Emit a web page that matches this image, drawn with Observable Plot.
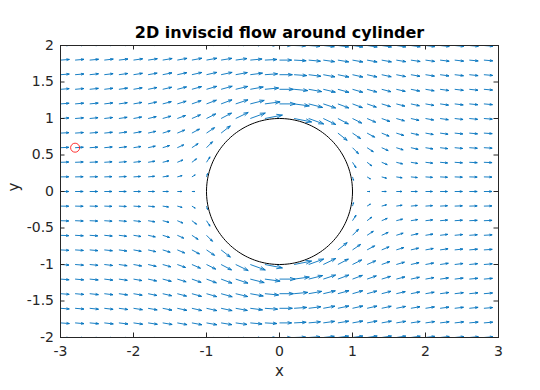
<!DOCTYPE html>
<html>
<head>
<meta charset="utf-8">
<script src="https://cdn.jsdelivr.net/npm/d3@7"></script>
<script src="https://cdn.jsdelivr.net/npm/@observablehq/plot@0.6"></script>
<style>
  html, body { margin: 0; padding: 0; background: #fff; }
  #chart { width: 540px; height: 390px; }
</style>
</head>
<body>
<div id="chart"></div>
<script>
const N = null; // grid points inside / on the cylinder (no arrow drawn)

// Grid of the quiver plot
const xs = [-3,-2.8,-2.6,-2.4,-2.2,-2,-1.8,-1.6,-1.4,-1.2,-1,-0.8,-0.6,-0.4,-0.2,0,0.2,0.4,0.6,0.8,1,1.2,1.4,1.6,1.8,2,2.2,2.4,2.6,2.8,3];
const ys = [2,1.8,1.6,1.4,1.2,1,0.8,0.6,0.4,0.2,0,-0.2,-0.4,-0.6,-0.8,-1,-1.2,-1.4,-1.6,-1.8,-2];

// Horizontal velocity u, one row per y value (top to bottom), one entry per x value
const uRows = [
  [.97,.97,.98,.98,.99,1,1.01,1.03,1.06,1.09,1.12,1.16,1.19,1.22,1.24,1.25,1.24,1.22,1.19,1.16,1.12,1.09,1.06,1.03,1.01,1,.99,.98,.98,.97,.97],
  [.96,.96,.96,.97,.98,.99,1,1.02,1.05,1.08,1.12,1.17,1.22,1.27,1.30,1.31,1.30,1.27,1.22,1.17,1.12,1.08,1.05,1.02,1,.99,.98,.97,.96,.96,.96],
  [.95,.95,.95,.95,.96,.97,.98,1,1.03,1.07,1.12,1.19,1.26,1.32,1.37,1.39,1.37,1.32,1.26,1.19,1.12,1.07,1.03,1,.98,.97,.96,.95,.95,.95,.95],
  [.94,.94,.94,.94,.94,.94,.95,.97,1,1.045,1.11,1.20,1.30,1.40,1.48,1.51,1.48,1.40,1.30,1.20,1.11,1.045,1,.97,.95,.94,.94,.94,.94,.94,.94],
  [.93,.93,.92,.92,.91,.91,.92,.93,.955,1,1.07,1.18,1.33,1.50,1.64,1.69,1.64,1.50,1.33,1.18,1.07,1,.955,.93,.92,.91,.91,.92,.92,.93,.93],
  [.92,.91,.90,.90,.89,.88,.88,.88,.89,.93,1,1.13,1.35,1.62,1.89,N,1.89,1.62,1.35,1.13,1,.93,.89,.88,.88,.88,.89,.90,.90,.91,.92],
  [.91,.90,.89,.88,.86,.84,.83,.81,.80,.82,.87,1,N,N,N,N,N,N,N,1,.87,.82,.80,.81,.83,.84,.86,.88,.89,.90,.91],
  [.90,.89,.87,.86,.83,.81,.78,.74,.70,.67,.65,N,N,N,N,N,N,N,N,N,.65,.67,.70,.74,.78,.81,.83,.86,.87,.89,.90],
  [.89,.88,.86,.84,.81,.78,.73,.68,.60,.50,.38,N,N,N,N,N,N,N,N,N,.38,.50,.60,.68,.73,.78,.81,.84,.86,.88,.89],
  [.89,.87,.85,.83,.80,.76,.70,.63,.52,.36,.11,N,N,N,N,N,N,N,N,N,.11,.36,.52,.63,.70,.76,.80,.83,.85,.87,.89],
  [.89,.87,.85,.83,.79,.75,.69,.61,.49,.31,N,N,N,N,N,N,N,N,N,N,N,.31,.49,.61,.69,.75,.79,.83,.85,.87,.89],
  [.89,.87,.85,.83,.80,.76,.70,.63,.52,.36,.11,N,N,N,N,N,N,N,N,N,.11,.36,.52,.63,.70,.76,.80,.83,.85,.87,.89],
  [.89,.88,.86,.84,.81,.78,.73,.68,.60,.50,.38,N,N,N,N,N,N,N,N,N,.38,.50,.60,.68,.73,.78,.81,.84,.86,.88,.89],
  [.90,.89,.87,.86,.83,.81,.78,.74,.70,.67,.65,N,N,N,N,N,N,N,N,N,.65,.67,.70,.74,.78,.81,.83,.86,.87,.89,.90],
  [.91,.90,.89,.88,.86,.84,.83,.81,.80,.82,.87,1,N,N,N,N,N,N,N,1,.87,.82,.80,.81,.83,.84,.86,.88,.89,.90,.91],
  [.92,.91,.90,.90,.89,.88,.88,.88,.89,.93,1,1.13,1.35,1.62,1.89,N,1.89,1.62,1.35,1.13,1,.93,.89,.88,.88,.88,.89,.90,.90,.91,.92],
  [.93,.93,.92,.92,.91,.91,.92,.93,.955,1,1.07,1.18,1.33,1.50,1.64,1.69,1.64,1.50,1.33,1.18,1.07,1,.955,.93,.92,.91,.91,.92,.92,.93,.93],
  [.94,.94,.94,.94,.94,.94,.95,.97,1,1.045,1.11,1.20,1.30,1.40,1.48,1.51,1.48,1.40,1.30,1.20,1.11,1.045,1,.97,.95,.94,.94,.94,.94,.94,.94],
  [.95,.95,.95,.95,.96,.97,.98,1,1.03,1.07,1.12,1.19,1.26,1.32,1.37,1.39,1.37,1.32,1.26,1.19,1.12,1.07,1.03,1,.98,.97,.96,.95,.95,.95,.95],
  [.96,.96,.96,.97,.98,.99,1,1.02,1.05,1.08,1.12,1.17,1.22,1.27,1.30,1.31,1.30,1.27,1.22,1.17,1.12,1.08,1.05,1.02,1,.99,.98,.97,.96,.96,.96],
  [.97,.97,.98,.98,.99,1,1.01,1.03,1.06,1.09,1.12,1.16,1.19,1.22,1.24,1.25,1.24,1.22,1.19,1.16,1.12,1.09,1.06,1.03,1.01,1,.99,.98,.98,.97,.97]
];

// Vertical velocity v, same layout
const vRows = [
  [.07,.08,.09,.10,.11,.125,.14,.15,.16,.16,.16,.15,.13,.09,.05,0,-.05,-.09,-.13,-.15,-.16,-.16,-.16,-.15,-.14,-.125,-.11,-.10,-.09,-.08,-.07],
  [.07,.08,.09,.11,.12,.14,.15,.17,.19,.20,.20,.19,.17,.12,.07,0,-.07,-.12,-.17,-.19,-.20,-.20,-.19,-.17,-.15,-.14,-.12,-.11,-.09,-.08,-.07],
  [.07,.08,.10,.11,.13,.15,.17,.20,.22,.24,.25,.25,.23,.17,.095,0,-.095,-.17,-.23,-.25,-.25,-.24,-.22,-.20,-.17,-.15,-.13,-.11,-.10,-.08,-.07],
  [.07,.08,.10,.11,.13,.16,.19,.22,.26,.29,.32,.33,.31,.25,.14,0,-.14,-.25,-.31,-.33,-.32,-.29,-.26,-.22,-.19,-.16,-.13,-.11,-.10,-.08,-.07],
  [.07,.08,.09,.11,.13,.16,.20,.24,.29,.35,.40,.44,.44,.38,.22,0,-.22,-.38,-.44,-.44,-.40,-.35,-.29,-.24,-.20,-.16,-.13,-.11,-.09,-.08,-.07],
  [.06,.07,.09,.105,.13,.16,.20,.25,.32,.40,.50,.59,.65,.59,.37,N,-.37,-.59,-.65,-.59,-.50,-.40,-.32,-.25,-.20,-.16,-.13,-.105,-.09,-.07,-.06],
  [.05,.06,.08,.09,.12,.15,.19,.25,.33,.44,.59,.78,N,N,N,N,N,N,N,-.78,-.59,-.44,-.33,-.25,-.19,-.15,-.12,-.09,-.08,-.06,-.05],
  [.04,.05,.06,.08,.10,.13,.17,.23,.31,.44,.65,N,N,N,N,N,N,N,N,N,-.65,-.44,-.31,-.23,-.17,-.13,-.10,-.08,-.06,-.05,-.04],
  [.03,.035,.04,.055,.07,.09,.12,.17,.25,.38,.59,N,N,N,N,N,N,N,N,N,-.59,-.38,-.25,-.17,-.12,-.09,-.07,-.055,-.04,-.035,-.03],
  [.015,.02,.02,.03,.04,.05,.07,.095,.14,.22,.37,N,N,N,N,N,N,N,N,N,-.37,-.22,-.14,-.095,-.07,-.05,-.04,-.03,-.02,-.02,-.015],
  [0,0,0,0,0,0,0,0,0,0,N,N,N,N,N,N,N,N,N,N,N,0,0,0,0,0,0,0,0,0,0],
  [-.015,-.02,-.02,-.03,-.04,-.05,-.07,-.095,-.14,-.22,-.37,N,N,N,N,N,N,N,N,N,.37,.22,.14,.095,.07,.05,.04,.03,.02,.02,.015],
  [-.03,-.035,-.04,-.055,-.07,-.09,-.12,-.17,-.25,-.38,-.59,N,N,N,N,N,N,N,N,N,.59,.38,.25,.17,.12,.09,.07,.055,.04,.035,.03],
  [-.04,-.05,-.06,-.08,-.10,-.13,-.17,-.23,-.31,-.44,-.65,N,N,N,N,N,N,N,N,N,.65,.44,.31,.23,.17,.13,.10,.08,.06,.05,.04],
  [-.05,-.06,-.08,-.09,-.12,-.15,-.19,-.25,-.33,-.44,-.59,-.78,N,N,N,N,N,N,N,.78,.59,.44,.33,.25,.19,.15,.12,.09,.08,.06,.05],
  [-.06,-.07,-.09,-.105,-.13,-.16,-.20,-.25,-.32,-.40,-.50,-.59,-.65,-.59,-.37,N,.37,.59,.65,.59,.50,.40,.32,.25,.20,.16,.13,.105,.09,.07,.06],
  [-.07,-.08,-.09,-.11,-.13,-.16,-.20,-.24,-.29,-.35,-.40,-.44,-.44,-.38,-.22,0,.22,.38,.44,.44,.40,.35,.29,.24,.20,.16,.13,.11,.09,.08,.07],
  [-.07,-.08,-.10,-.11,-.13,-.16,-.19,-.22,-.26,-.29,-.32,-.33,-.31,-.25,-.14,0,.14,.25,.31,.33,.32,.29,.26,.22,.19,.16,.13,.11,.10,.08,.07],
  [-.07,-.08,-.10,-.11,-.13,-.15,-.17,-.20,-.22,-.24,-.25,-.25,-.23,-.17,-.095,0,.095,.17,.23,.25,.25,.24,.22,.20,.17,.15,.13,.11,.10,.08,.07],
  [-.07,-.08,-.09,-.11,-.12,-.14,-.15,-.17,-.19,-.20,-.20,-.19,-.17,-.12,-.07,0,.07,.12,.17,.19,.20,.20,.19,.17,.15,.14,.12,.11,.09,.08,.07],
  [-.07,-.08,-.09,-.10,-.11,-.125,-.14,-.15,-.16,-.16,-.16,-.15,-.13,-.09,-.05,0,.05,.09,.13,.15,.16,.16,.16,.15,.14,.125,.11,.10,.09,.08,.07]
];

const markerPoint = [{x: -2.8, y: 0.6}];
const cylinder = {cx: 0, cy: 0, r: 1};
const xTicks = [-3, -2, -1, 0, 1, 2, 3];
const yTicks = [-2, -1.5, -1, -0.5, 0, 0.5, 1, 1.5, 2];
const titleText = "2D inviscid flow around cylinder";
const xLabelText = "x";
const yLabelText = "y";

// Layout / style
const W = 540, H = 390, mL = 60, mR = 42, mT = 45, mB = 53;
const innerW = W - mL - mR, innerH = H - mT - mB;
const tickLen = 4.5;
const arrowScale = 0.127;   // quiver autoscale factor
const headA = 0.33, headB = 0.33;
const axisColor = "#262626";
const arrowColor = "#0072BD";

// Build quiver segments (shaft + two barbs) from the velocity arrays
const segs = [];
ys.forEach((y, i) => xs.forEach((x, j) => {
  const u = uRows[i][j], v = vRows[i][j];
  if (u == null || v == null) return;
  const du = u * arrowScale, dv = v * arrowScale;
  const tx = x + du, ty = y + dv;
  segs.push({x1: x, y1: y, x2: tx, y2: ty});
  segs.push({x1: tx - headA * (du + headB * dv), y1: ty - headA * (dv - headB * du), x2: tx, y2: ty});
  segs.push({x1: tx - headA * (du - headB * dv), y1: ty - headA * (dv + headB * du), x2: tx, y2: ty});
}));

const circlePts = d3.range(0, 361, 2).map(a => ({
  x: cylinder.cx + cylinder.r * Math.cos(a * Math.PI / 180),
  y: cylinder.cy + cylinder.r * Math.sin(a * Math.PI / 180)
}));

const fmt = d => String(d);

const chart = Plot.plot({
  width: W, height: H,
  marginLeft: mL, marginRight: mR, marginTop: mT, marginBottom: mB,
  x: {domain: [-3, 3], axis: null},
  y: {domain: [-2, 2], axis: null},
  style: {fontFamily: "'DejaVu Sans', sans-serif", color: axisColor, background: "#fff", overflow: "visible"},
  marks: [
    Plot.link(segs, {x1: "x1", y1: "y1", x2: "x2", y2: "y2", stroke: arrowColor, strokeWidth: 0.9, clip: true}),
    Plot.line(circlePts, {x: "x", y: "y", stroke: "#000", strokeWidth: 1}),
    Plot.dot(markerPoint, {x: "x", y: "y", r: 4.5, stroke: "#ff0000", fill: "none", strokeWidth: 0.8}),
    Plot.frame({stroke: axisColor, strokeWidth: 1}),
    Plot.tickX(xTicks, {x: d => d, insetTop: innerH - tickLen, stroke: axisColor}),
    Plot.tickX(xTicks, {x: d => d, insetBottom: innerH - tickLen, stroke: axisColor}),
    Plot.tickY(yTicks, {y: d => d, insetRight: innerW - tickLen, stroke: axisColor}),
    Plot.tickY(yTicks, {y: d => d, insetLeft: innerW - tickLen, stroke: axisColor}),
    Plot.axisX({ticks: xTicks, tickSize: 0, tickPadding: 9, fontSize: 14, tickFormat: fmt, label: null}),
    Plot.axisY({ticks: yTicks, tickSize: 0, tickPadding: 6.5, fontSize: 14, tickFormat: fmt, label: null}),
    Plot.text([xLabelText], {frameAnchor: "bottom", lineAnchor: "middle", dy: 33.5, fontSize: 15, text: d => d, fill: axisColor}),
    Plot.text([yLabelText], {frameAnchor: "left", lineAnchor: "middle", dx: -46.5, rotate: -90, fontSize: 15, text: d => d, fill: axisColor}),
    Plot.text([titleText], {frameAnchor: "top", lineAnchor: "middle", dy: -13, fontSize: 16, fontWeight: "bold", text: d => d, fill: "#000"})
  ]
});

document.getElementById("chart").appendChild(chart);
</script>
</body>
</html>
